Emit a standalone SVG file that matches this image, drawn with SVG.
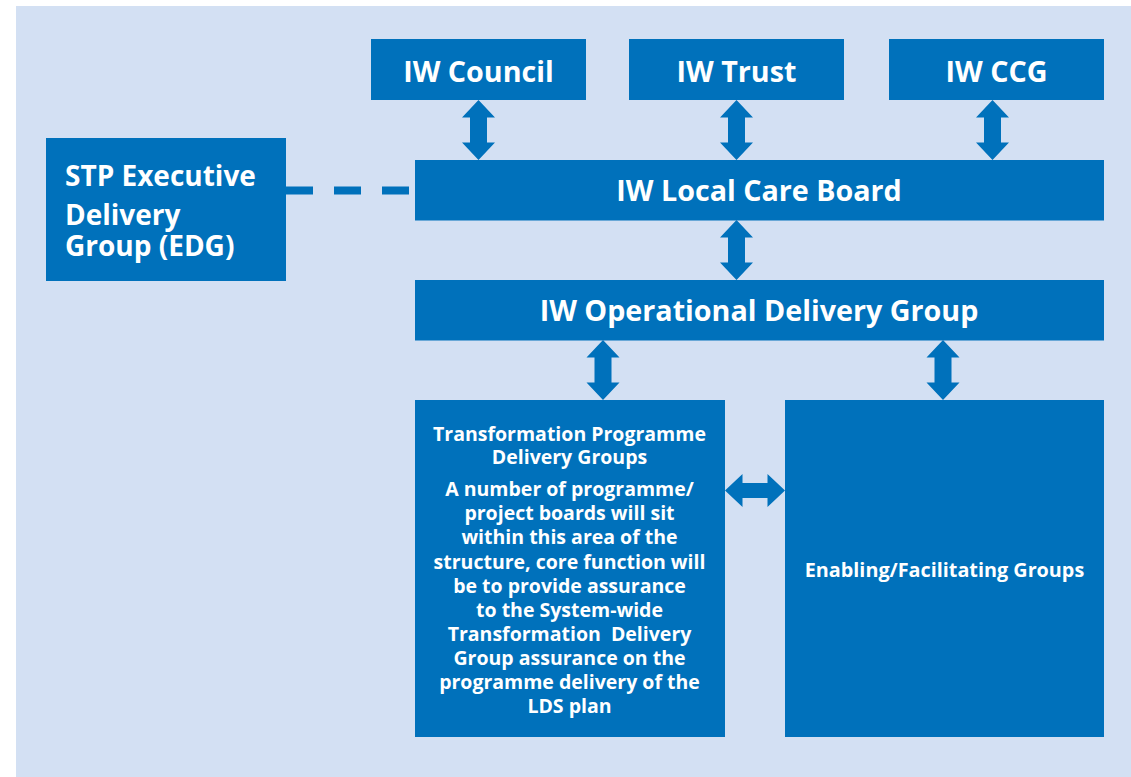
<svg xmlns="http://www.w3.org/2000/svg" xmlns:xlink="http://www.w3.org/1999/xlink" width="1131" height="777" viewBox="0 0 1131 777">
<style>
.box{fill:#0071BB}
.t{font-family:"Open Sans","Noto Sans","Liberation Sans",sans-serif;font-weight:700;fill:#FFFFFF;text-anchor:middle}
.big{font-size:28.7px}
.stp{font-size:28px}
.small{font-size:19.5px}
.arrow{fill:#0071BB}
</style>
<defs>
<path id="varrow" d="M0,0 L16.5,17.5 L8.5,17.5 L8.5,42.5 L16.5,42.5 L0,60 L-16.5,42.5 L-8.5,42.5 L-8.5,17.5 L-16.5,17.5 Z"/>
<path id="harrow" d="M0,0 L17.5,-16.5 L17.5,-7.5 L42.5,-7.5 L42.5,-16.5 L60,0 L42.5,16.5 L42.5,7.5 L17.5,7.5 L17.5,16.5 Z"/>
</defs>
<rect x="0" y="0" width="1131" height="777" fill="#FFFFFF"/>
<rect x="16" y="6" width="1115" height="771" fill="#D3E0F3"/>

<g id="connectors">
<line x1="286" y1="190.5" x2="415" y2="190.5" stroke="#0071BB" stroke-width="8" stroke-dasharray="27 21"/>
<use xlink:href="#varrow" class="arrow" x="478.5" y="100"/>
<use xlink:href="#varrow" class="arrow" x="736.5" y="100"/>
<use xlink:href="#varrow" class="arrow" x="992.5" y="100"/>
<use xlink:href="#varrow" class="arrow" x="736.5" y="220"/>
<use xlink:href="#varrow" class="arrow" x="603" y="340"/>
<use xlink:href="#varrow" class="arrow" x="943" y="340"/>
<use xlink:href="#harrow" class="arrow" x="725" y="490.5"/>
</g>

<g id="stp">
<rect class="box" x="46" y="138" width="240" height="143"/>
<text class="t stp" x="65" y="186" style="text-anchor:start">STP Executive</text>
<text class="t stp" x="65" y="225" style="text-anchor:start">Delivery</text>
<text class="t stp" x="65" y="256" style="text-anchor:start">Group (EDG)</text>
</g>

<g id="council">
<rect class="box" x="371" y="39" width="215" height="61"/>
<text class="t big" x="478.5" y="82">IW Council</text>
</g>

<g id="trust">
<rect class="box" x="629" y="39" width="215" height="61"/>
<text class="t big" x="736.5" y="82">IW Trust</text>
</g>

<g id="ccg">
<rect class="box" x="889" y="39" width="215" height="61"/>
<text class="t big" x="996.5" y="82">IW CCG</text>
</g>

<g id="lcb">
<rect class="box" x="415" y="160" width="689" height="60.5"/>
<text class="t big" x="759" y="201">IW Local Care Board</text>
</g>

<g id="odg">
<rect class="box" x="415" y="280" width="689" height="60.5"/>
<text class="t big" x="759" y="321">IW Operational Delivery Group</text>
</g>

<g id="tpdg">
<rect class="box" x="415" y="400" width="310" height="337"/>
<text class="t small" x="569.5" y="441">Transformation Programme</text>
<text class="t small" x="569.5" y="464">Delivery Groups</text>
<text class="t small" x="569.5" y="496">A number of programme/</text>
<text class="t small" x="569.5" y="520">project boards will sit</text>
<text class="t small" x="569.5" y="544">within this area of the</text>
<text class="t small" x="569.5" y="569">structure, core function will</text>
<text class="t small" x="569.5" y="593">be to provide assurance</text>
<text class="t small" x="569.5" y="617">to the System-wide</text>
<text class="t small" x="569.5" y="641" xml:space="preserve">Transformation  Delivery</text>
<text class="t small" x="569.5" y="665">Group assurance on the</text>
<text class="t small" x="569.5" y="689">programme delivery of the</text>
<text class="t small" x="569.5" y="713">LDS plan</text>
</g>

<g id="enabling">
<rect class="box" x="785" y="400" width="319" height="337"/>
<text class="t small" x="944.5" y="577" style="font-size:19.8px">Enabling/Facilitating Groups</text>
</g>
</svg>
